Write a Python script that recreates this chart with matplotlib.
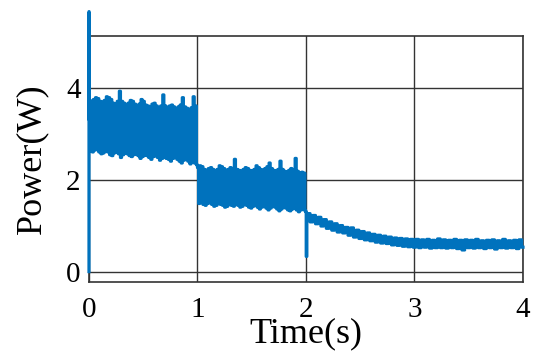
import numpy as np
import matplotlib.pyplot as plt

# spike at start-up
t_start = [0.0, 0.0, 0.002]
p_start = [0.0, 5.65, 3.3]

# 0-1 s : peaks and troughs of the ripple
seg1_hi = [3.72, 3.70, 3.74, 3.78, 3.76, 3.70, 3.68, 3.72, 3.80, 3.78,
           3.74, 3.66, 3.64, 3.70, 3.92, 3.70, 3.66, 3.62, 3.66, 3.72,
           3.70, 3.64, 3.60, 3.64, 3.74, 3.70, 3.62, 3.60, 3.58, 3.64,
           3.66, 3.60, 3.56, 3.60, 3.84, 3.60, 3.56, 3.60, 3.62, 3.58,
           3.54, 3.58, 3.62, 3.78, 3.58, 3.55, 3.52, 3.56, 3.80, 3.60]
seg1_lo = [2.62, 2.60, 2.64, 2.66, 2.60, 2.56, 2.58, 2.62, 2.60, 2.54,
           2.52, 2.58, 2.60, 2.56, 2.48, 2.54, 2.58, 2.56, 2.52, 2.50,
           2.54, 2.56, 2.52, 2.46, 2.50, 2.54, 2.52, 2.48, 2.44, 2.50,
           2.52, 2.48, 2.42, 2.46, 2.50, 2.46, 2.44, 2.40, 2.46, 2.48,
           2.44, 2.40, 2.36, 2.42, 2.44, 2.40, 2.34, 2.38, 2.36, 2.32]

# 1-2 s
seg2_hi = [2.26, 2.30, 2.28, 2.22, 2.20, 2.24, 2.26, 2.22, 2.18, 2.22,
           2.30, 2.28, 2.24, 2.20, 2.22, 2.26, 2.24, 2.44, 2.22, 2.20,
           2.18, 2.22, 2.26, 2.24, 2.20, 2.18, 2.22, 2.30, 2.26, 2.22,
           2.20, 2.24, 2.28, 2.36, 2.24, 2.20, 2.18, 2.22, 2.40, 2.22,
           2.18, 2.16, 2.20, 2.24, 2.20, 2.46, 2.18, 2.14, 2.16, 2.14]
seg2_lo = [1.48, 1.50, 1.46, 1.44, 1.48, 1.50, 1.46, 1.42, 1.44, 1.48,
           1.46, 1.44, 1.40, 1.42, 1.46, 1.44, 1.42, 1.46, 1.44, 1.40,
           1.42, 1.46, 1.44, 1.40, 1.38, 1.42, 1.44, 1.40, 1.36, 1.40,
           1.42, 1.38, 1.34, 1.38, 1.42, 1.40, 1.36, 1.32, 1.36, 1.40,
           1.38, 1.34, 1.32, 1.36, 1.38, 1.34, 1.30, 1.34, 1.36, 1.32]

# step at 2 s
t_step = [2.0, 2.004, 2.012]
p_step = [1.30, 0.33, 1.25]

# 2-4 s decay, every 0.025 s
seg3 = [1.26, 1.08, 1.22, 1.04, 1.18, 0.99, 1.13, 0.94, 1.08, 0.90,
        1.04, 0.86, 1.00, 0.84, 0.96, 0.79, 0.95, 0.75, 0.90, 0.72,
        0.87, 0.69, 0.84, 0.67, 0.81, 0.64, 0.79, 0.62, 0.77, 0.61,
        0.75, 0.58, 0.73, 0.57, 0.72, 0.55, 0.71, 0.54, 0.70, 0.53,
        0.70, 0.52, 0.69, 0.53, 0.70, 0.51, 0.68, 0.52, 0.71, 0.52,
        0.69, 0.51, 0.68, 0.52, 0.70, 0.50, 0.68, 0.47, 0.69, 0.52,
        0.68, 0.51, 0.70, 0.52, 0.67, 0.50, 0.68, 0.52, 0.69, 0.49,
        0.67, 0.52, 0.70, 0.51, 0.67, 0.52, 0.68, 0.50, 0.69, 0.53]

# build time axis
dt = 0.01
t1 = np.arange(len(seg1_hi) * 2) * dt + 0.005
t2 = np.arange(len(seg2_hi) * 2) * dt + 1.005
t3 = 2.0 + 0.025 * np.arange(1, len(seg3) + 1)
p1 = np.column_stack([seg1_hi, seg1_lo]).ravel()
p2 = np.column_stack([seg2_hi, seg2_lo]).ravel()

t = np.concatenate([t_start, t1, t2, t_step, t3])
p = np.concatenate([p_start, p1, p2, p_step, seg3])

plt.rcParams['font.family'] = 'Liberation Serif'
plt.rcParams['path.simplify'] = False  # keep every ripple

blue = '#0072BD'
fig = plt.figure(figsize=(5.5, 3.58), dpi=100)
ax = fig.add_axes([0.1618, 0.2131, 0.7891, 0.6863])
ax.plot(t, p, color=blue, lw=2.3, drawstyle='steps-mid', snap=False,
        clip_on=False, zorder=3)
# ripple too dense to resolve: fill between the peaks and troughs
for tt, hi, lo in [(t1[::2], seg1_hi, seg1_lo), (t2[::2], seg2_hi, seg2_lo)]:
    ax.fill_between(tt, hi, lo, color=blue, lw=0, step='mid', zorder=3)

ax.set_xlim(0, 4)
ax.set_ylim(-0.22, 5.12)
ax.set_xticks([0, 1, 2, 3, 4])
ax.set_yticks([0, 2, 4])
ax.grid(True, color='#333333', lw=1.0)
for s in ax.spines.values():
    s.set_color('#333333')
    s.set_linewidth(1.2)
ax.tick_params(direction='in', length=0, labelsize=21)
ax.tick_params(axis='x', pad=11)
ax.tick_params(axis='y', pad=6)
ax.set_xlabel('Time(s)', fontsize=26, labelpad=-4)
ax.set_ylabel('Power(W)', fontsize=26, labelpad=13)

fig.savefig('out.png', dpi=100)
